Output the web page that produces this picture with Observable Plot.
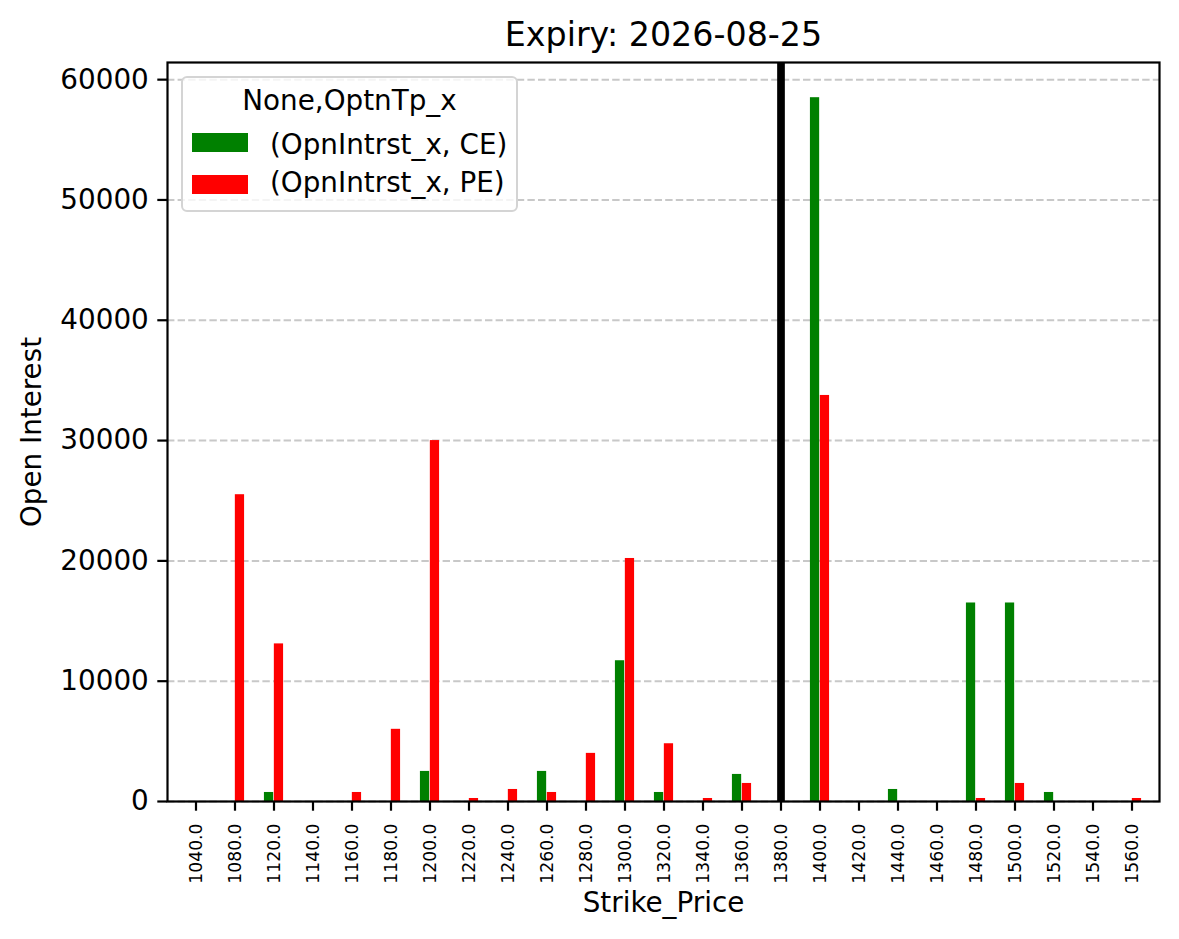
<!DOCTYPE html>
<html>
<head>
<meta charset="utf-8">
<script src="https://cdn.jsdelivr.net/npm/d3@7"></script>
<script src="https://cdn.jsdelivr.net/npm/@observablehq/plot@0.6"></script>
<style>
  html, body { margin: 0; padding: 0; background: #fff; }
  #wrap { position: relative; width: 1179px; height: 939px; font-family: "DejaVu Sans", sans-serif; }
  #legend {
    position: absolute; left: 181px; top: 76px; width: 333px; height: 132px;
    border: 2px solid #d4d4d4; border-radius: 6px; background: rgba(255,255,255,0.8);
    font-size: 27.8px; color: #000;
  }
  #legend .ttl { position: absolute; left: 0; right: 0; top: 8px; text-align: center; line-height: 30px; }
  #legend .sw { position: absolute; left: 9px; width: 56px; height: 19px; }
  #legend .lbl { position: absolute; left: 87px; height: 30px; line-height: 30px; white-space: pre; }
</style>
</head>
<body>
<div id="wrap">
  <div id="chart"></div>
  <div id="legend"></div>
</div>
<script>
// Strike prices (categorical axis) and open interest per option type
const strikes = ["1040.0","1080.0","1120.0","1140.0","1160.0","1180.0","1200.0","1220.0","1240.0",
  "1260.0","1280.0","1300.0","1320.0","1340.0","1360.0","1380.0","1400.0","1420.0","1440.0",
  "1460.0","1480.0","1500.0","1520.0","1540.0","1560.0"];
const ceOI = [null, null, 750, null, null, null, 2500, null, null,
  2500, null, 11700, 750, null, 2250, null, 58500, null, 1000,
  null, 16500, 16500, 750, null, null];
const peOI = [null, 25500, 13100, null, 750, 6000, 30000, 250, 1000,
  750, 4000, 20200, 4800, 250, 1500, null, 33750, null, null,
  null, 250, 1500, null, null, 250];
const seriesNames = ["(OpnIntrst_x, CE)", "(OpnIntrst_x, PE)"];
const seriesColors = ["#008000", "#ff0000"];
const yTicks = [0, 10000, 20000, 30000, 40000, 50000, 60000];
const spotStrike = "1380.0";
const title = "Expiry: 2026-08-25";

const W = 1179, H = 939;
const margin = {top: 62, right: 20, bottom: 138, left: 167};
const bw = (W - margin.left - margin.right) / strikes.length;

const ce = strikes.map((s, i) => ({strike: s, oi: ceOI[i]})).filter(d => d.oi != null);
const pe = strikes.map((s, i) => ({strike: s, oi: peOI[i]})).filter(d => d.oi != null);
const yMax = d3.max([...ceOI, ...peOI]) * 1.05;

const font = "DejaVu Sans, sans-serif";

const chart = Plot.plot({
  width: W, height: H,
  marginTop: margin.top, marginRight: margin.right, marginBottom: margin.bottom, marginLeft: margin.left,
  style: {fontFamily: font, background: "white", color: "black"},
  x: {type: "band", domain: strikes, padding: 0, axis: null},
  y: {domain: [0, yMax], axis: null},
  marks: [
    Plot.gridY(yTicks, {stroke: "#b0b0b0", strokeOpacity: 0.7, strokeWidth: 2, strokeDasharray: "7.4,3.2"}),
    Plot.barY(ce, {x: "strike", y: "oi", fill: seriesColors[0], insetLeft: bw * 0.25, insetRight: bw * 0.5}),
    Plot.barY(pe, {x: "strike", y: "oi", fill: seriesColors[1], insetLeft: bw * 0.5, insetRight: bw * 0.25}),
    Plot.ruleX([spotStrike], {stroke: "black", strokeWidth: 7.7}),
    Plot.frame({stroke: "black", strokeWidth: 2.2}),
    // x tick marks, then vertical tick labels centred under each tick
    Plot.axisX({tickSize: 9.7, tickFormat: () => "", label: null, strokeWidth: 2.2}),
    Plot.text(strikes, {x: d => d, frameAnchor: "bottom", rotate: -90, textAnchor: "end", lineAnchor: "middle", dy: 22, fontSize: 17.2}),
    Plot.axisY(yTicks, {tickSize: 9.7, tickPadding: 9, fontSize: 27.8, label: null, tickFormat: d => String(d), strokeWidth: 2.2}),
    Plot.text([title], {frameAnchor: "top", lineAnchor: "middle", dy: -27, fontSize: 33.3}),
    Plot.text(["Strike_Price"], {frameAnchor: "bottom", lineAnchor: "middle", dy: 102, fontSize: 27.8}),
    Plot.text(["Open Interest"], {frameAnchor: "left", textAnchor: "middle", lineAnchor: "middle", dx: -135, rotate: -90, fontSize: 27.8})
  ]
});
document.getElementById("chart").appendChild(chart);

// Legend box in the upper left of the plot area
const legend = document.getElementById("legend");
const ttl = document.createElement("div");
ttl.className = "ttl";
ttl.textContent = "None,OptnTp_x";
legend.appendChild(ttl);
seriesNames.forEach((name, i) => {
  const sw = document.createElement("div");
  sw.className = "sw";
  sw.style.top = (55 + i * 42) + "px";
  sw.style.background = seriesColors[i];
  legend.appendChild(sw);
  const lbl = document.createElement("div");
  lbl.className = "lbl";
  lbl.style.top = (52 + i * 38) + "px";
  lbl.textContent = name;
  legend.appendChild(lbl);
});
</script>
</body>
</html>
